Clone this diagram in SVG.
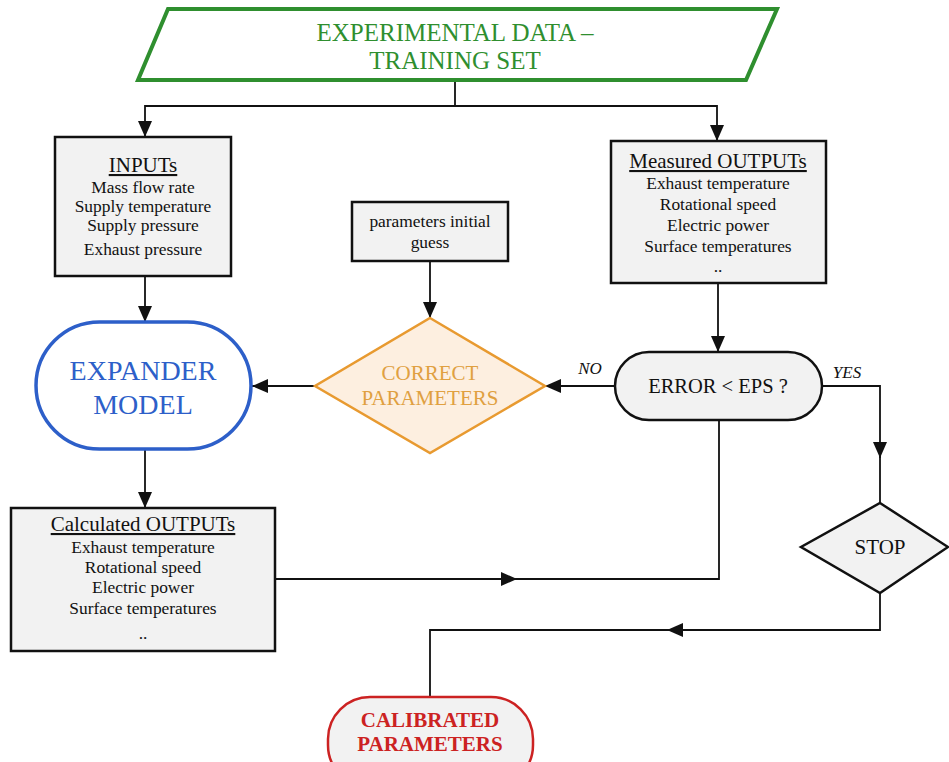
<svg xmlns="http://www.w3.org/2000/svg" width="949" height="762" viewBox="0 0 949 762">
<style>
text{font-family:"Liberation Serif","Times New Roman",serif;text-anchor:middle;fill:#111}
.b{font-size:17.4px}
.h{font-size:21px;text-decoration:underline}
.box{fill:#f2f2f2;stroke:#111;stroke-width:2.5}
.c{fill:none;stroke:#111;stroke-width:1.8}
.lab{font-size:17px;font-style:italic}
</style>
<defs>
<marker id="ar" markerUnits="userSpaceOnUse" markerWidth="16" markerHeight="14" refX="16" refY="7" orient="auto">
<path d="M0,0 L16,7 L0,14 z" fill="#111"/>
</marker>
</defs>
<rect width="949" height="762" fill="#fff"/>
<g id="connectors">
<path class="c" d="M455,80 V106 H145 V137" marker-end="url(#ar)"/>
<path class="c" d="M455,106 H717 V141" marker-end="url(#ar)"/>
<path class="c" d="M145,276 V322" marker-end="url(#ar)"/>
<path class="c" d="M430,261 V318" marker-end="url(#ar)"/>
<path class="c" d="M315,386 H252" marker-end="url(#ar)"/>
<path class="c" d="M718,283 V352" marker-end="url(#ar)"/>
<path class="c" d="M615,386 H545" marker-end="url(#ar)"/>
<path class="c" d="M822,386 H880 V458" marker-end="url(#ar)"/>
<path class="c" d="M880,456 V503"/>
<path class="c" d="M145,449 V508" marker-end="url(#ar)"/>
<path class="c" d="M275,579 H517" marker-end="url(#ar)"/>
<path class="c" d="M515,579 H719 V420"/>
<path class="c" d="M880,593 V630 H667" marker-end="url(#ar)"/>
<path class="c" d="M669,630 H430 V697"/>
<text class="lab" x="590" y="374">NO</text>
<text class="lab" x="847" y="378">YES</text>
</g>
<g id="training">
<polygon points="168,9 777,9 746,80 138,80" fill="#fff" stroke="#2f8f2f" stroke-width="4"/>
<text x="455" y="41" font-size="25" style="fill:#2f8f2f">EXPERIMENTAL DATA –</text>
<text x="455" y="69" font-size="25" style="fill:#2f8f2f">TRAINING SET</text>
</g>
<g id="inputs">
<rect class="box" x="55" y="137" width="176" height="139"/>
<text class="h" x="143" y="172">INPUTs</text>
<text class="b" x="143" y="193">Mass flow rate</text>
<text class="b" x="143" y="212">Supply temperature</text>
<text class="b" x="143" y="231">Supply pressure</text>
<text class="b" x="143" y="255">Exhaust pressure</text>
</g>
<g id="measured">
<rect class="box" x="611" y="141" width="215" height="142"/>
<text class="h" x="718" y="168">Measured OUTPUTs</text>
<text class="b" x="718" y="189">Exhaust temperature</text>
<text class="b" x="718" y="210">Rotational speed</text>
<text class="b" x="718" y="231">Electric power</text>
<text class="b" x="718" y="252">Surface temperatures</text>
<text class="b" x="718" y="272">..</text>
</g>
<g id="guess">
<rect class="box" x="352" y="202" width="156" height="59"/>
<text class="b" x="430" y="227">parameters initial</text>
<text class="b" x="430" y="248">guess</text>
</g>
<g id="expander">
<rect x="36" y="322" width="215" height="127" rx="63.5" fill="#fff" stroke="#2d5fc9" stroke-width="3.5"/>
<text x="143" y="380" font-size="28" style="fill:#2d5fc9">EXPANDER</text>
<text x="143" y="414" font-size="28" style="fill:#2d5fc9">MODEL</text>
</g>
<g id="correct">
<polygon points="430,318 545,386 430,453 315,386" fill="#fdefe0" stroke="#e89a30" stroke-width="2.5"/>
<text x="430" y="380" font-size="21" style="fill:#e0a040">CORRECT</text>
<text x="430" y="405" font-size="21" style="fill:#e0a040">PARAMETERS</text>
</g>
<g id="error">
<rect class="box" x="615" y="352" width="207" height="68" rx="34"/>
<text x="718" y="393" font-size="20.5">ERROR &lt; EPS ?</text>
</g>
<g id="calculated">
<rect class="box" x="11" y="508" width="264" height="143"/>
<text class="h" x="143" y="531">Calculated OUTPUTs</text>
<text class="b" x="143" y="553">Exhaust temperature</text>
<text class="b" x="143" y="573">Rotational speed</text>
<text class="b" x="143" y="593">Electric power</text>
<text class="b" x="143" y="614">Surface temperatures</text>
<text class="b" x="143" y="639">..</text>
</g>
<g id="stop">
<polygon points="880,503 948,547 880,593 801,547" class="box"/>
<text x="880" y="554" font-size="21">STOP</text>
</g>
<g id="calibrated">
<rect x="328" y="697" width="205" height="90" rx="42" fill="#f2f2f2" stroke="#cc2222" stroke-width="2.5"/>
<text x="430" y="727" font-size="21" font-weight="bold" style="fill:#cc2222">CALIBRATED</text>
<text x="430" y="751" font-size="21" font-weight="bold" style="fill:#cc2222">PARAMETERS</text>
</g>
</svg>
